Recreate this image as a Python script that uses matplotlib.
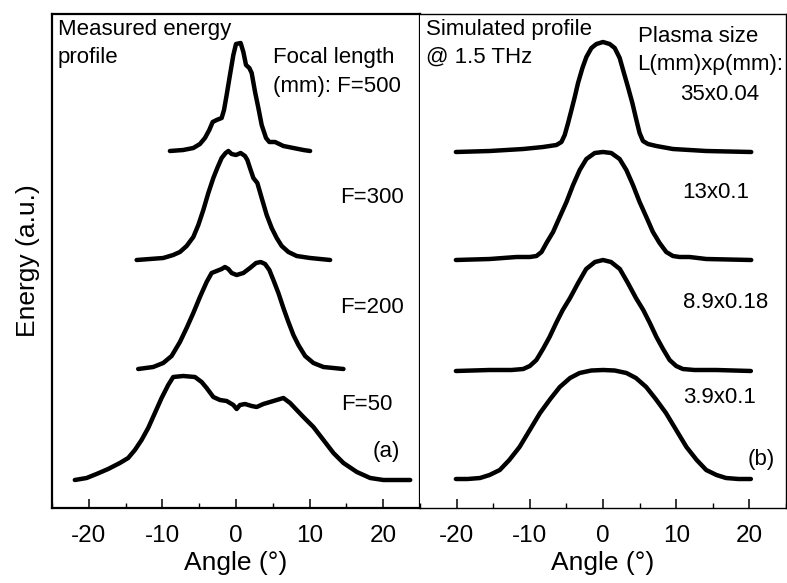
import matplotlib
matplotlib.use('Agg')
import matplotlib.pyplot as plt
from matplotlib.ticker import MultipleLocator

plt.rcParams['font.family'] = ['Liberation Sans', 'DejaVu Sans']
plt.rcParams['axes.unicode_minus'] = False

# measured profiles (stacked, a.u.)
f500_ang = [-8.98, -7.17, -5.8, -4.9, -4.22, -3.63, -3.17, -2.63, -1.95, -1.63, -1.27, -0.82,
            -0.36, 0.0, 0.63, 1.0, 1.36, 1.81, 2.13, 2.59, 3.04, 3.49, 4.08, 4.53, 5.31, 6.44,
            7.8, 9.16, 10.07]
f500_en = [3.57, 3.58, 3.60, 3.64, 3.70, 3.78, 3.86, 3.88, 3.90, 3.98, 4.13, 4.33,
           4.53, 4.64, 4.65, 4.56, 4.43, 4.40, 4.35, 4.16, 4.00, 3.83, 3.70, 3.66, 3.66, 3.62,
           3.60, 3.58, 3.57]

f300_ang = [-13.5, -11.7, -9.89, -8.53, -7.62, -6.71, -5.8, -5.12, -4.44, -3.76, -3.08, -2.54,
            -1.95, -1.41, -1.04, -0.59, 0.0, 0.63, 1.22, 1.54, 1.9, 2.36, 2.9, 3.49, 4.17, 4.85,
            5.53, 6.21, 7.12, 8.25, 10.07, 12.79]
f300_en = [2.48, 2.49, 2.50, 2.53, 2.56, 2.62, 2.71, 2.83, 2.98, 3.15, 3.30, 3.40,
           3.50, 3.55, 3.57, 3.54, 3.53, 3.55, 3.52, 3.48, 3.40, 3.30, 3.25, 3.10, 2.93, 2.80,
           2.70, 2.62, 2.56, 2.52, 2.50, 2.48]

f200_ang = [-13.29, -11.25, -9.89, -8.75, -7.62, -6.71, -5.8, -4.9, -3.99, -3.31, -2.63, -1.95,
            -1.5, -1.04, -0.59, 0.09, 1.0, 1.9, 2.72, 3.36, 3.95, 4.53, 5.08, 5.76, 6.44, 7.12,
            7.8, 8.48, 9.39, 10.52, 11.88, 14.6]
f200_en = [1.39, 1.41, 1.45, 1.52, 1.66, 1.80, 1.95, 2.11, 2.26, 2.35, 2.37, 2.39,
           2.41, 2.39, 2.35, 2.33, 2.35, 2.40, 2.45, 2.46, 2.44, 2.38, 2.28, 2.15, 2.00, 1.86,
           1.73, 1.63, 1.52, 1.45, 1.41, 1.39]

f50_ang = [-21.9, -20.3, -18.95, -17.37, -15.78, -14.65, -13.74, -12.83, -11.93, -11.02, -10.11,
           -9.21, -8.53, -7.17, -5.58, -4.67, -3.99, -3.08, -2.18, -1.27, -0.36, 0.09, 0.54, 1.22,
           2.13, 2.81, 3.72, 4.63, 5.53, 6.44, 7.35, 8.25, 9.16, 10.52, 11.88, 13.24, 14.6, 16.42,
           18.23, 20.04, 23.67]
f50_en = [0.28, 0.30, 0.34, 0.39, 0.45, 0.50, 0.58, 0.68, 0.80, 0.95, 1.10,
          1.23, 1.31, 1.32, 1.31, 1.26, 1.20, 1.11, 1.08, 1.07, 1.03, 0.99, 1.03, 1.04,
          1.02, 1.01, 1.04, 1.06, 1.08, 1.10, 1.05, 0.98, 0.91, 0.81, 0.68, 0.55, 0.45, 0.36,
          0.30, 0.28, 0.28]

# simulated profiles (stacked, a.u.)
s35_ang = [-20.1, -15.46, -10.9, -8.19, -6.36, -5.68, -5.23, -4.77, -4.31, -3.86, -3.41, -2.81,
           -2.27, -1.58, -0.9, 0.0, 0.91, 1.6, 2.28, 2.82, 3.41, 4.01, 4.56, 5.0, 5.46, 6.14,
           7.28, 9.55, 14.1, 20.25]
s35_en = [3.56, 3.57, 3.59, 3.61, 3.63, 3.66, 3.73, 3.85, 3.98, 4.11, 4.25, 4.40,
          4.51, 4.60, 4.64, 4.66, 4.64, 4.60, 4.50, 4.36, 4.21, 4.05, 3.88, 3.75, 3.67, 3.64,
          3.62, 3.59, 3.57, 3.56]

s13_ang = [-20.1, -15.46, -11.81, -10.0, -9.09, -8.4, -7.72, -6.82, -5.91, -4.99, -4.09, -3.18,
           -2.27, -1.13, 0.0, 1.13, 2.27, 3.19, 4.09, 5.0, 5.92, 6.82, 7.73, 8.64, 9.55, 10.46,
           11.83, 14.1, 20.25]
s13_en = [2.48, 2.49, 2.51, 2.51, 2.52, 2.56, 2.65, 2.76, 2.91, 3.06, 3.23, 3.38,
          3.49, 3.55, 3.56, 3.55, 3.49, 3.38, 3.23, 3.06, 2.91, 2.76, 2.65, 2.56, 2.52, 2.51,
          2.51, 2.49, 2.48]

s89_ang = [-20.1, -15.5, -12.5, -10.9, -10.0, -9.1, -8.2, -7.3, -6.4, -5.5, -4.5, -3.4, -2.3,
           -1.1, 0.0, 1.1, 2.3, 3.4, 4.5, 5.5, 6.4, 7.3, 8.2, 9.1, 10.0, 10.9, 12.5, 15.5, 20.2]
s89_en = [1.37, 1.38, 1.38, 1.39, 1.42, 1.48, 1.59, 1.71, 1.85, 1.98, 2.10, 2.25, 2.39,
          2.46, 2.48, 2.46, 2.39, 2.25, 2.10, 1.98, 1.85, 1.71, 1.59, 1.48, 1.42, 1.39, 1.38,
          1.38, 1.37]

s39_ang = [-20.1, -18.5, -16.8, -15.5, -14.1, -12.8, -11.4, -10.0, -8.6, -7.2, -5.9, -4.5, -3.2,
           -1.6, 0.0, 1.6, 3.2, 4.5, 5.9, 7.2, 8.6, 10.0, 11.4, 12.8, 14.1, 15.5, 16.8, 18.5, 20.2]
s39_en = [0.29, 0.29, 0.30, 0.33, 0.38, 0.48, 0.61, 0.78, 0.95, 1.09, 1.21, 1.30, 1.35,
          1.375, 1.38, 1.375, 1.35, 1.30, 1.21, 1.09, 0.95, 0.78, 0.61, 0.48, 0.38, 0.33, 0.30,
          0.29, 0.29]

measured = [(f500_ang, f500_en), (f300_ang, f300_en), (f200_ang, f200_en), (f50_ang, f50_en)]
simulated = [(s35_ang, s35_en), (s13_ang, s13_en), (s89_ang, s89_en), (s39_ang, s39_en)]

W, H = 787, 583
fig = plt.figure(figsize=(W / 100, H / 100), dpi=100)


def px(x, y):
    return x / W, 1 - y / H


axa = fig.add_axes([52 / W, 1 - 508 / H, 368 / W, 494 / H])
axb = fig.add_axes([420 / W, 1 - 508 / H, 366 / W, 494 / H])

for ax, curves, sw in [(axa, measured, 1.6), (axb, simulated, 1.0)]:
    for ang, en in curves:
        ax.plot(ang, en, color='black', lw=3.2, solid_capstyle='round', solid_joinstyle='round')
    ax.set_xlim(-25, 25)
    ax.set_ylim(0, 4.94)
    ax.set_yticks([])
    ax.xaxis.set_major_locator(MultipleLocator(10))
    ax.xaxis.set_minor_locator(MultipleLocator(5))
    ax.tick_params(axis='x', which='major', direction='in', length=6.5, width=1.1,
                   labelsize=17.5, pad=12)
    ax.tick_params(axis='x', which='minor', direction='in', length=3.5, width=1.0)
    for s in ax.spines.values():
        s.set_linewidth(sw)
    ax.set_xlabel('Angle (°)', fontsize=19, labelpad=3)

axb.spines['left'].set_visible(False)
axa.set_ylabel('Energy (a.u.)', fontsize=19, labelpad=9)

fs = 16
labels = [
    ('Measured energy', 58, 35), ('profile', 58, 63),
    ('Focal length', 273, 63), ('(mm): F=500', 273, 92),
    ('F=300', 340, 203), ('F=200', 340, 313), ('F=50', 341, 410), ('(a)', 373, 457),
    ('Simulated profile', 426, 35), ('@ 1.5 THz', 426, 63),
    ('Plasma size', 638, 42), ('L(mm)xρ(mm):', 637, 70),
    ('35x0.04', 680, 100), ('13x0.1', 682, 198), ('8.9x0.18', 683, 308),
    ('3.9x0.1', 683, 403), ('(b)', 748, 465),
]
for txt, x, y in labels:
    fig.text(*px(x, y), txt, fontsize=fs, va='baseline', ha='left')

fig.savefig('out.png', dpi=100)
